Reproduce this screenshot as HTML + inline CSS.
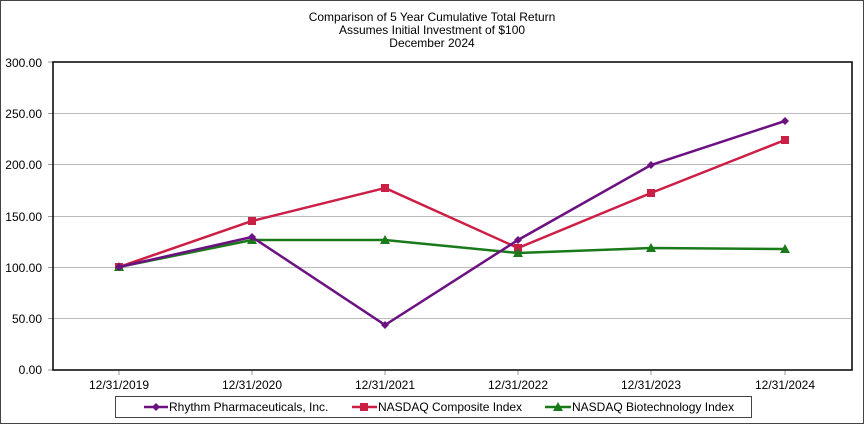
<!DOCTYPE html>
<html><head><style>
body{margin:0;background:#fff}
svg{display:block;font-family:"Liberation Sans Narrow","Liberation Sans",sans-serif}
</style></head><body>
<svg width="864" height="424" viewBox="0 0 864 424" xmlns="http://www.w3.org/2000/svg">
<rect x="0.5" y="0.5" width="863" height="423" fill="#fff" stroke="#444" stroke-width="1"/>
<g font-size="12" text-anchor="middle" fill="#000">
<text x="432" y="21">Comparison of 5 Year Cumulative  Total Return</text>
<text x="432" y="34">Assumes  Initial Investment  of $100</text>
<text x="432" y="47">December 2024</text>
</g>
<g stroke="#bbb" stroke-width="1">
<line x1="53" y1="113.5" x2="852" y2="113.5"/>
<line x1="53" y1="164.5" x2="852" y2="164.5"/>
<line x1="53" y1="216.5" x2="852" y2="216.5"/>
<line x1="53" y1="267.5" x2="852" y2="267.5"/>
<line x1="53" y1="318.5" x2="852" y2="318.5"/>
</g>
<g stroke="#999" stroke-width="1">
<line x1="48" y1="62" x2="53" y2="62"/><line x1="48" y1="113.5" x2="53" y2="113.5"/>
<line x1="48" y1="164.5" x2="53" y2="164.5"/><line x1="48" y1="216.5" x2="53" y2="216.5"/>
<line x1="48" y1="267.5" x2="53" y2="267.5"/><line x1="48" y1="318.5" x2="53" y2="318.5"/>
<line x1="48" y1="370" x2="53" y2="370"/>
<line x1="119" y1="370" x2="119" y2="375"/><line x1="252" y1="370" x2="252" y2="375"/>
<line x1="385" y1="370" x2="385" y2="375"/><line x1="518" y1="370" x2="518" y2="375"/>
<line x1="651" y1="370" x2="651" y2="375"/><line x1="785" y1="370" x2="785" y2="375"/>
</g>
<rect x="53" y="62" width="799" height="308" fill="none" stroke="#000" stroke-width="1.5"/>
<g font-size="12" text-anchor="end" fill="#000">
<text x="42" y="67">300.00</text><text x="42" y="118">250.00</text>
<text x="42" y="169">200.00</text><text x="42" y="221">150.00</text>
<text x="42" y="272">100.00</text><text x="42" y="323">50.00</text>
<text x="42" y="374">0.00</text>
</g>
<g font-size="12" text-anchor="middle" fill="#000">
<text x="119" y="389">12/31/2019</text><text x="252" y="389">12/31/2020</text>
<text x="385" y="389">12/31/2021</text><text x="518" y="389">12/31/2022</text>
<text x="651" y="389">12/31/2023</text><text x="785" y="389">12/31/2024</text>
</g>
<!-- NASDAQ Composite -->
<polyline fill="none" stroke="#cc1f45" stroke-width="2.5" points="119,267 252,221 385,188 518,248 651,193 785,140"/>
<g fill="#cc1f45">
<rect x="115" y="263" width="8" height="8"/><rect x="248" y="217" width="8" height="8"/>
<rect x="381" y="184" width="8" height="8"/><rect x="514" y="244" width="8" height="8"/>
<rect x="647" y="189" width="8" height="8"/><rect x="781" y="136" width="8" height="8"/>
</g>
<!-- Biotech -->
<polyline fill="none" stroke="#1a7a1a" stroke-width="2.5" points="119,267 252,240 385,240 518,253 651,248 785,249"/>
<g fill="#1a7a1a">
<polygon points="119,262 124,271 114,271"/><polygon points="252,235 257,244 247,244"/>
<polygon points="385,235 390,244 380,244"/><polygon points="518,248 523,257 513,257"/>
<polygon points="651,243 656,252 646,252"/><polygon points="785,244 790,253 780,253"/>
</g>
<!-- Rhythm -->
<polyline fill="none" stroke="#6b1180" stroke-width="2.5" points="119,267 252,237 385,325 518,240 651,165 785,121"/>
<g fill="#6b1180">
<polygon points="119,263 123,267 119,271 115,267"/><polygon points="252,233 256,237 252,241 248,237"/>
<polygon points="385,321 389,325 385,329 381,325"/><polygon points="518,236 522,240 518,244 514,240"/>
<polygon points="651,161 655,165 651,169 647,165"/><polygon points="785,117 789,121 785,125 781,121"/>
</g>
<!-- Legend -->
<rect x="115.5" y="396.5" width="636" height="21" fill="#fff" stroke="#444" stroke-width="1"/>
<g font-size="12" fill="#000">
<line x1="144" y1="407" x2="168" y2="407" stroke="#6b1180" stroke-width="2.5"/>
<polygon points="156,403 160,407 156,411 152,407" fill="#6b1180"/>
<text x="169" y="411">Rhythm Pharmaceuticals, Inc.</text>
<line x1="352" y1="407" x2="377" y2="407" stroke="#cc1f45" stroke-width="2.5"/>
<rect x="360" y="403" width="8" height="8" fill="#cc1f45"/>
<text x="378" y="411">NASDAQ Composite Index</text>
<line x1="545" y1="407" x2="571" y2="407" stroke="#1a7a1a" stroke-width="2.5"/>
<polygon points="558,402 563,411 553,411" fill="#1a7a1a"/>
<text x="572" y="411">NASDAQ Biotechnology Index</text>
</g>
</svg>
</body></html>
